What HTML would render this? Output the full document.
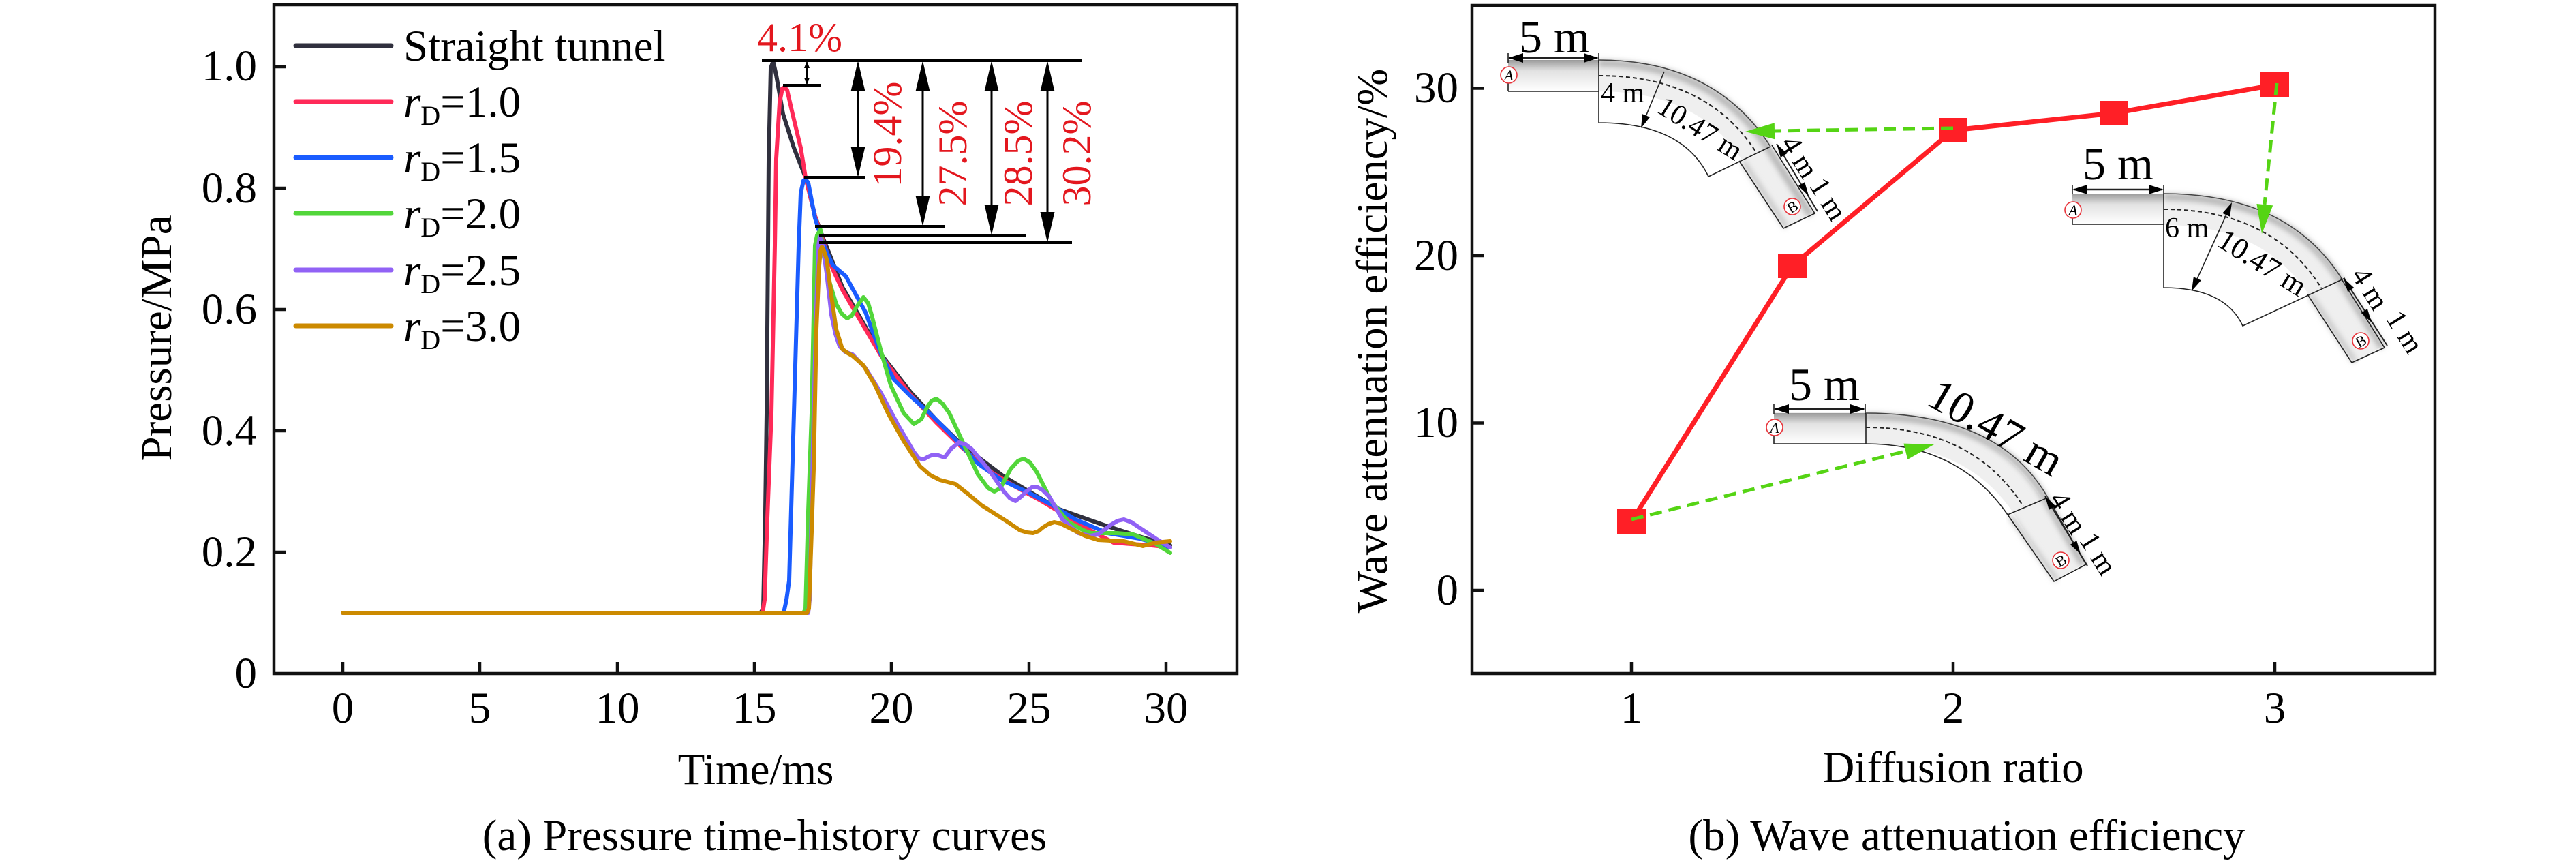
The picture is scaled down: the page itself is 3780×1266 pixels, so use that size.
<!DOCTYPE html>
<html>
<head>
<meta charset="utf-8">
<style>
html,body{margin:0;padding:0;background:#fff;}
svg{display:block;}
svg text{font-family:"Liberation Serif","Times New Roman",serif;}
</style>
</head>
<body>
<svg width="3780" height="1266" viewBox="0 0 3780 1266" xmlns="http://www.w3.org/2000/svg" font-family="'Liberation Serif', 'Times New Roman', serif">
<defs>
  <linearGradient id="rg" x1="0" y1="0" x2="0" y2="1">
    <stop offset="0" stop-color="#9a9a9a"/>
    <stop offset="0.35" stop-color="#e2e2e2"/>
    <stop offset="1" stop-color="#ffffff"/>
  </linearGradient>
  <filter id="bl" x="-10%" y="-10%" width="120%" height="120%"><feGaussianBlur stdDeviation="4"/></filter>
</defs>
<rect width="3780" height="1266" fill="#fff"/>

<!-- ================= LEFT PANEL ================= -->
<g fill="none" stroke-linejoin="round" stroke-linecap="round" stroke-width="6">
  <polyline stroke="#30303e" points="503,899 1116,899 1120,893 1123,750 1125,606 1127,360 1128,233 1131,100 1134.5,90 1139,110 1149,167 1165,217 1182,260 1196,317 1208,350 1217,372 1236,421 1260,462 1293,520 1336,575 1374,616 1412,653 1473,699 1554,747 1625,772 1672,787 1717,800"/>
  <polyline stroke="#ff2a58" points="503,899 1119,899 1122,880 1126,760 1132,606 1137,360 1139,233 1144,150 1148,130 1151,128 1155,132 1163,167 1175,217 1182,260 1196,317 1210,360 1222,395 1236,425 1260,466 1293,522 1336,579 1374,620 1412,657 1450,690 1490,714 1530,736 1570,760 1600,778 1634,796 1660,798 1690,800 1717,803"/>
  <polyline stroke="#1a5cff" points="503,899 1150,899 1154,880 1158,852 1165,606 1172,360 1175,283 1179,265 1182,263 1186,268 1196,320 1208,358 1222,389 1241,405 1270,458 1293,520 1312,557 1336,581 1364,606 1388,630 1412,655 1435,680 1469,704 1506,721 1544,741 1578,762 1625,782 1672,790 1717,803"/>
  <polyline stroke="#52d63a" points="503,899 1179,899 1182,893 1186,750 1191,606 1196,360 1199,345 1204,337 1208,372 1217,413 1227,446 1235,460 1243,467 1250,463 1257,450 1267,436 1274,445 1279,462 1293,516 1307,565 1326,606 1341,622 1352,615 1360,598 1367,588 1374,585 1383,592 1393,606 1412,647 1435,696 1450,716 1459,721 1468,716 1483,688 1494,676 1502,673 1511,678 1521,692 1544,737 1568,766 1590,778 1601,782 1639,782 1663,784 1696,798 1717,811"/>
  <polyline stroke="#9162f5" points="503,899 1186,899 1188,880 1191,750 1194,606 1198,450 1201,360 1203,348 1207,360 1213,401 1220,462 1226,490 1232,508 1240,516 1251,520 1270,540 1293,577 1317,622 1341,663 1348,672 1355,674 1362,670 1369,667 1377,668 1386,671 1396,658 1407,649 1417,652 1426,659 1450,688 1473,721 1482,731 1490,735 1498,729 1506,721 1514,715 1521,714 1530,719 1540,729 1559,762 1582,782 1600,786 1611,784 1622,776 1630,770 1640,764 1649,762 1660,766 1672,774 1696,790 1717,803"/>
  <polyline stroke="#cc8a00" points="503,899 1184,899 1187,893 1191,780 1194,688 1198,483 1202,390 1204,368 1206,362 1209,368 1213,380 1220,434 1227,483 1236,512 1244,518 1251,522 1267,536 1284,565 1303,606 1326,647 1350,684 1365,697 1379,704 1402,710 1421,725 1440,741 1473,762 1497,778 1507,781 1516,782 1524,779 1530,774 1538,769 1547,766 1556,768 1568,774 1592,786 1611,792 1649,794 1677,801 1696,796 1717,794"/>
</g>

<g stroke="#000" fill="none">
  <line x1="1118" y1="89" x2="1588" y2="89" stroke-width="4"/>
  <line x1="1149" y1="125" x2="1205" y2="125" stroke-width="4"/>
  <line x1="1180" y1="260" x2="1270" y2="260" stroke-width="4"/>
  <line x1="1196" y1="332" x2="1387" y2="332" stroke-width="4"/>
  <line x1="1202" y1="345" x2="1505" y2="345" stroke-width="4"/>
  <line x1="1202" y1="356" x2="1573" y2="356" stroke-width="4"/>
  <line x1="1184" y1="92" x2="1184" y2="122" stroke-width="2"/>
  <line x1="1259" y1="100" x2="1259" y2="250" stroke-width="3"/>
  <line x1="1354" y1="100" x2="1354" y2="322" stroke-width="3"/>
  <line x1="1455" y1="100" x2="1455" y2="335" stroke-width="3"/>
  <line x1="1537" y1="100" x2="1537" y2="346" stroke-width="3"/>
</g>
<g fill="#000">
  <polygon points="1184,89 1180,100 1188,100"/>
  <polygon points="1184,125 1180,114 1188,114"/>
  <polygon points="1259,89 1248.5,134 1269.5,134"/>
  <polygon points="1259,260 1248.5,215 1269.5,215"/>
  <polygon points="1354,89 1343.5,134 1364.5,134"/>
  <polygon points="1354,332 1343.5,287 1364.5,287"/>
  <polygon points="1455,89 1444.5,134 1465.5,134"/>
  <polygon points="1455,345 1444.5,300 1465.5,300"/>
  <polygon points="1537,89 1526.5,134 1547.5,134"/>
  <polygon points="1537,356 1526.5,311 1547.5,311"/>
</g>
<g font-size="60" fill="#e3171e">
  <text x="1111" y="75" fill="#e3171e">4.1%</text>
  <text transform="translate(1322,197) rotate(-90)" text-anchor="middle" fill="#e3171e">19.4%</text>
  <text transform="translate(1418,225) rotate(-90)" text-anchor="middle" fill="#e3171e">27.5%</text>
  <text transform="translate(1514,225) rotate(-90)" text-anchor="middle" fill="#e3171e">28.5%</text>
  <text transform="translate(1600,225) rotate(-90)" text-anchor="middle" fill="#e3171e">30.2%</text>
</g>

<g stroke-width="7" stroke-linecap="round">
  <line x1="434" y1="67" x2="574" y2="67" stroke="#30303e"/>
  <line x1="434" y1="149" x2="574" y2="149" stroke="#ff2a58"/>
  <line x1="434" y1="231" x2="574" y2="231" stroke="#1a5cff"/>
  <line x1="434" y1="313" x2="574" y2="313" stroke="#52d63a"/>
  <line x1="434" y1="396" x2="574" y2="396" stroke="#9162f5"/>
  <line x1="434" y1="478" x2="574" y2="478" stroke="#cc8a00"/>
</g>
<g font-size="65" fill="#000">
  <text x="592" y="89">Straight tunnel</text>
  <text x="592" y="171"><tspan font-style="italic">r</tspan><tspan font-size="40" dy="12">D</tspan><tspan dy="-12">=1.0</tspan></text>
  <text x="592" y="253"><tspan font-style="italic">r</tspan><tspan font-size="40" dy="12">D</tspan><tspan dy="-12">=1.5</tspan></text>
  <text x="592" y="335"><tspan font-style="italic">r</tspan><tspan font-size="40" dy="12">D</tspan><tspan dy="-12">=2.0</tspan></text>
  <text x="592" y="418"><tspan font-style="italic">r</tspan><tspan font-size="40" dy="12">D</tspan><tspan dy="-12">=2.5</tspan></text>
  <text x="592" y="500"><tspan font-style="italic">r</tspan><tspan font-size="40" dy="12">D</tspan><tspan dy="-12">=3.0</tspan></text>
</g>

<rect x="402" y="7" width="1413" height="981" fill="none" stroke="#111" stroke-width="4.5"/>
<g stroke="#111" stroke-width="4.5">
  <line x1="402" y1="810" x2="419" y2="810"/>
  <line x1="402" y1="632" x2="419" y2="632"/>
  <line x1="402" y1="454" x2="419" y2="454"/>
  <line x1="402" y1="276" x2="419" y2="276"/>
  <line x1="402" y1="98" x2="419" y2="98"/>
  <line x1="503" y1="988" x2="503" y2="971"/>
  <line x1="704" y1="988" x2="704" y2="971"/>
  <line x1="906" y1="988" x2="906" y2="971"/>
  <line x1="1107" y1="988" x2="1107" y2="971"/>
  <line x1="1308" y1="988" x2="1308" y2="971"/>
  <line x1="1510" y1="988" x2="1510" y2="971"/>
  <line x1="1711" y1="988" x2="1711" y2="971"/>
</g>
<g font-size="65" text-anchor="end" fill="#000">
  <text x="377" y="1009">0</text>
  <text x="377" y="831">0.2</text>
  <text x="377" y="653">0.4</text>
  <text x="377" y="475">0.6</text>
  <text x="377" y="297">0.8</text>
  <text x="377" y="118">1.0</text>
</g>
<g font-size="65" text-anchor="middle" fill="#000">
  <text x="503" y="1060">0</text>
  <text x="704" y="1060">5</text>
  <text x="906" y="1060">10</text>
  <text x="1107" y="1060">15</text>
  <text x="1308" y="1060">20</text>
  <text x="1510" y="1060">25</text>
  <text x="1711" y="1060">30</text>
  <text x="1109" y="1150">Time/ms</text>
  <text x="1122" y="1247">(a) Pressure time-history curves</text>
  <text transform="translate(251,496) rotate(-90)">Pressure/MPa</text>
</g>

<!-- ================= RIGHT PANEL ================= -->
<g>
  <path d="M2213,111 L2346,111 Q2504,111 2576,223 L2640,324" fill="none" stroke="#efefef" stroke-width="46"/>
  <path d="M2346,93 Q2513,93 2594,217 L2657,316" fill="none" stroke="#b5b5b5" stroke-width="10" filter="url(#bl)"/>
  <path d="M2558,238 L2621,333" fill="none" stroke="#c8c8c8" stroke-width="8" filter="url(#bl)"/>
  <rect x="2213" y="88" width="133" height="46" fill="url(#rg)"/>
  <g fill="none" stroke="#222" stroke-width="1.6">
    <path d="M2213,134 L2346,134 M2213,120 L2213,134"/>
    <path d="M2346,88 L2346,180 Q2469,180 2507,259 L2598,215"/>
    <path d="M2346,88 Q2517,88 2598,215" stroke="#444"/>
    <path d="M2600,213 L2663,313 L2617,335 L2552,236"/>
    <path d="M2346,111 Q2504,111 2576,222" stroke-dasharray="6,4" stroke-width="2"/>
    <line x1="2442" y1="105" x2="2410" y2="183"/>
    <line x1="2607" y1="211" x2="2667" y2="310" stroke-width="2"/>
    <line x1="2213" y1="78" x2="2213" y2="92"/>
    <line x1="2346" y1="78" x2="2346" y2="92"/>
    <line x1="2215" y1="85" x2="2344" y2="85" stroke-width="2.5"/>
  </g>
  <g fill="#000">
    <polygon points="2213,85 2235,78 2235,92"/>
    <polygon points="2346,85 2324,78 2324,92"/>
    <polygon points="2408,188 2421.1,171.8 2410,167.2"/>
    <polygon points="2607,211 2622.2,225.1 2612.8,230.9"/>
    <polygon points="2654,287 2648.2,267.1 2638.8,272.9"/>
  </g>
  <circle cx="2214" cy="110" r="12" fill="#fff" stroke="#e8333a" stroke-width="1.6"/>
  <text x="2214" y="118" font-size="22" font-style="italic" text-anchor="middle" fill="#000">A</text>
  <circle cx="2630" cy="303" r="12" fill="#fff" stroke="#e8333a" stroke-width="1.6"/>
  <text transform="translate(2630,303) rotate(-30)" y="8" font-size="22" text-anchor="middle" fill="#000">B</text>
  <text x="2281" y="77" font-size="68" text-anchor="middle" fill="#000">5 m</text>
  <text x="2349" y="150" font-size="42" fill="#000">4 m</text>
  <text transform="translate(2495,188) rotate(32)" y="14" font-size="42" text-anchor="middle" fill="#000">10.47 m</text>
  <text transform="translate(2641,230) rotate(58)" y="14" font-size="42" text-anchor="middle" fill="#000">4 m</text>
  <text transform="translate(2683,292) rotate(58)" y="14" font-size="42" text-anchor="middle" fill="#000">1 m</text>
</g>

<g>
  <path d="M3041,307 L3175,307 Q3334,307 3408,421 L3475,521" fill="none" stroke="#efefef" stroke-width="46"/>
  <path d="M3175,289 Q3356,289 3433,410 L3496,510" fill="none" stroke="#b5b5b5" stroke-width="10" filter="url(#bl)"/>
  <path d="M3391,434 L3455,530" fill="none" stroke="#c8c8c8" stroke-width="8" filter="url(#bl)"/>
  <rect x="3041" y="284" width="134" height="45" fill="url(#rg)"/>
  <g fill="none" stroke="#222" stroke-width="1.6">
    <path d="M3041,329 L3175,329 M3041,316 L3041,329"/>
    <path d="M3175,284 L3175,422 Q3265,422 3291,478 L3441,408"/>
    <path d="M3175,284 Q3358,284 3437,410" stroke="#444"/>
    <path d="M3435,408 L3499,510 L3451,532 L3386,432"/>
    <path d="M3175,307 Q3334,307 3406,422" stroke-dasharray="6,4" stroke-width="2"/>
    <line x1="3271" y1="306" x2="3220" y2="418"/>
    <line x1="3439" y1="408" x2="3503" y2="507" stroke-width="2"/>
    <line x1="3041" y1="271" x2="3041" y2="285"/>
    <line x1="3175" y1="271" x2="3175" y2="285"/>
    <line x1="3043" y1="278" x2="3173" y2="278" stroke-width="2.5"/>
  </g>
  <g fill="#000">
    <polygon points="3041,278 3063,271 3063,285"/>
    <polygon points="3175,278 3153,271 3153,285"/>
    <polygon points="3216,427 3229.8,411.3 3218.8,406.3"/>
    <polygon points="3275,297 3272.2,317.7 3261.2,312.7"/>
    <polygon points="3439,408 3454.3,422.1 3445,427.9"/>
    <polygon points="3480,473 3473.9,453.1 3464.6,458.9"/>
  </g>
  <circle cx="3042" cy="308" r="12" fill="#fff" stroke="#e8333a" stroke-width="1.6"/>
  <text x="3042" y="316" font-size="22" font-style="italic" text-anchor="middle" fill="#000">A</text>
  <circle cx="3464" cy="500" r="12" fill="#fff" stroke="#e8333a" stroke-width="1.6"/>
  <text transform="translate(3464,500) rotate(-30)" y="8" font-size="22" text-anchor="middle" fill="#000">B</text>
  <text x="3108" y="263" font-size="68" text-anchor="middle" fill="#000">5 m</text>
  <text x="3177" y="348" font-size="42" fill="#000">6 m</text>
  <text transform="translate(3320,385) rotate(32)" y="15" font-size="44" text-anchor="middle" fill="#000">10.47 m</text>
  <text transform="translate(3478,423) rotate(58)" y="14" font-size="42" text-anchor="middle" fill="#000">4 m</text>
  <text transform="translate(3529,487) rotate(58)" y="14" font-size="42" text-anchor="middle" fill="#000">1 m</text>
</g>

<g>
  <path d="M2603,628 L2738,628 Q2900,628 2975,742 L3037,840" fill="none" stroke="#efefef" stroke-width="46"/>
  <path d="M2738,611 Q2934,611 3001,732 L3057,828" fill="none" stroke="#b5b5b5" stroke-width="10" filter="url(#bl)"/>
  <path d="M2950,757 L3018,851" fill="none" stroke="#c8c8c8" stroke-width="8" filter="url(#bl)"/>
  <rect x="2603" y="606" width="135" height="45" fill="url(#rg)"/>
  <g fill="none" stroke="#222" stroke-width="1.6">
    <path d="M2603,651 L2738,651 M2603,640 L2603,651"/>
    <path d="M2738,606 L2738,651 Q2874,651 2946,755 L3005,730"/>
    <path d="M2738,606 Q2934,606 3005,730" stroke="#444"/>
    <path d="M3005,730 L3061,828 L3014,853 L2946,755"/>
    <path d="M2738,627 Q2896,627 2969,743" stroke-dasharray="6,4" stroke-width="2"/>
    <line x1="3001" y1="728" x2="3063" y2="830" stroke-width="2"/>
    <line x1="2603" y1="593" x2="2603" y2="607"/>
    <line x1="2737" y1="593" x2="2737" y2="607"/>
    <line x1="2605" y1="600" x2="2735" y2="600" stroke-width="2.5"/>
  </g>
  <g fill="#000">
    <polygon points="2603,600 2625,593 2625,607"/>
    <polygon points="2737,600 2715,593 2715,607"/>
    <polygon points="3001,728 3016.1,742.1 3006.7,747.9"/>
    <polygon points="3053,813 3047.3,793.1 3037.9,798.9"/>
  </g>
  <circle cx="2604" cy="627" r="12" fill="#fff" stroke="#e8333a" stroke-width="1.6"/>
  <text x="2604" y="635" font-size="22" font-style="italic" text-anchor="middle" fill="#000">A</text>
  <circle cx="3024" cy="822" r="12" fill="#fff" stroke="#e8333a" stroke-width="1.6"/>
  <text transform="translate(3024,822) rotate(-30)" y="8" font-size="22" text-anchor="middle" fill="#000">B</text>
  <text x="2677" y="587" font-size="68" text-anchor="middle" fill="#000">5 m</text>
  <text transform="translate(2929,627) rotate(30)" y="22" font-size="66" text-anchor="middle" fill="#000">10.47 m</text>
  <text transform="translate(3035,752) rotate(58)" y="14" font-size="42" text-anchor="middle" fill="#000">4 m</text>
  <text transform="translate(3079,812) rotate(58)" y="14" font-size="42" text-anchor="middle" fill="#000">1 m</text>
</g>

<polyline points="2394,765 2630,390 2866,191 3102,166 3338,124.5" fill="none" stroke="#ff1f26" stroke-width="7" stroke-linejoin="round"/>
<g fill="#ff1f26">
  <rect x="2373" y="747" width="42" height="36"/>
  <rect x="2609" y="372" width="42" height="36"/>
  <rect x="2845" y="173" width="42" height="36"/>
  <rect x="3081" y="148" width="42" height="36"/>
  <rect x="3317" y="106" width="42" height="36"/>
</g>

<g fill="none" stroke="#55d414" stroke-width="5" stroke-dasharray="18,10">
  <line x1="2394" y1="762" x2="2796" y2="662"/>
  <line x1="2866" y1="188" x2="2604" y2="192"/>
  <line x1="3341" y1="122" x2="3323" y2="300"/>
</g>
<g fill="#55d414">
  <polygon points="2838,652 2799.2,674 2793.4,650.6"/>
  <polygon points="2561,193 2604.2,204.3 2603.8,180.3"/>
  <polygon points="3319,343 3335.2,301.4 3311.4,299"/>
</g>

<rect x="2160" y="8" width="1413" height="980" fill="none" stroke="#111" stroke-width="4.5"/>
<g stroke="#111" stroke-width="4.5">
  <line x1="2160" y1="866" x2="2177" y2="866"/>
  <line x1="2160" y1="620.5" x2="2177" y2="620.5"/>
  <line x1="2160" y1="375" x2="2177" y2="375"/>
  <line x1="2160" y1="129.5" x2="2177" y2="129.5"/>
  <line x1="2394" y1="988" x2="2394" y2="971"/>
  <line x1="2866" y1="988" x2="2866" y2="971"/>
  <line x1="3338" y1="988" x2="3338" y2="971"/>
</g>
<g font-size="65" text-anchor="end" fill="#000">
  <text x="2140" y="887">0</text>
  <text x="2140" y="641">10</text>
  <text x="2140" y="396">20</text>
  <text x="2140" y="150">30</text>
</g>
<g font-size="65" text-anchor="middle" fill="#000">
  <text x="2394" y="1060">1</text>
  <text x="2866" y="1060">2</text>
  <text x="3338" y="1060">3</text>
  <text x="2866" y="1147">Diffusion ratio</text>
  <text x="2886" y="1247">(b) Wave attenuation efficiency</text>
  <text transform="translate(2035,500) rotate(-90)">Wave attenuation efficiency/%</text>
</g>
</svg>
</body>
</html>
